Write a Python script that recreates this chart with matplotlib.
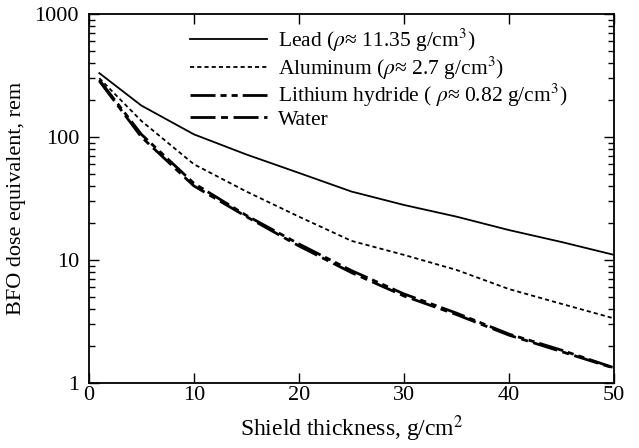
import matplotlib
matplotlib.use("Agg")
import matplotlib.pyplot as plt
from matplotlib.ticker import LogLocator, NullFormatter, FixedLocator

plt.rcParams['font.family'] = ['Liberation Serif', 'DejaVu Serif']
plt.rcParams['mathtext.fontset'] = 'stix'

# values (g/cm^2 vs rem)
thickness = [1, 5, 10, 15, 20, 25, 30, 35, 40, 45, 50]
lead = [330, 180, 105, 72, 51, 36, 28, 22.5, 17.5, 14, 11]
aluminum = [300, 135, 60, 36, 22.5, 14.3, 11, 8.3, 5.8, 4.4, 3.35]
lithium_hydride = [290, 105, 42, 23, 13.5, 8.2, 5.3, 3.7, 2.5, 1.85, 1.33]
water = [285, 100, 40, 22.5, 13, 7.9, 5.1, 3.6, 2.45, 1.8, 1.32]

labels = [r'Lead ($\rho$≈ 11.35 g/cm$^3$)',
          r'Aluminum ($\rho$≈ 2.7 g/cm$^3$)',
          r'Lithium hydride ( $\rho$≈ 0.82 g/cm$^3$)',
          'Water']

fig = plt.figure(figsize=(6.39, 4.48), dpi=100)
ax = fig.add_axes([0.139, 0.145, 0.822, 0.824])

ax.plot(thickness, lead, color='black', lw=1.3, label=labels[0])
ax.plot(thickness, aluminum, color='black', lw=1.3, dashes=(2.3, 1.7), label=labels[1])
ax.plot(thickness, lithium_hydride, color='black', lw=2.0,
        dashes=(9, 1.8, 2.2, 1.8, 2.2, 1.8), label=labels[2])
ax.plot(thickness, water, color='black', lw=2.0,
        dashes=(9, 2, 2.5, 2), label=labels[3])

ax.set_yscale('log')
ax.set_xlim(0, 50)
ax.set_ylim(1, 1000)
ax.xaxis.set_major_locator(FixedLocator([0, 10, 20, 30, 40, 50]))
ax.yaxis.set_major_locator(FixedLocator([1, 10, 100, 1000]))
ax.yaxis.set_minor_locator(LogLocator(base=10, subs=range(2, 10)))
ax.yaxis.set_minor_formatter(NullFormatter())
ax.set_yticklabels(['1', '10', '100', '1000'])

ax.tick_params(which='both', direction='in', top=True, right=True,
               labelsize=16, width=1.0)
ax.tick_params(which='major', length=7)
ax.tick_params(which='minor', length=4)
ax.tick_params(axis='x', pad=2)
ax.tick_params(axis='y', pad=7)
for s in ax.spines.values():
    s.set_linewidth(1.3)

ax.set_xlabel('Shield thickness, g/cm$^2$', fontsize=17, labelpad=6)
ax.set_ylabel('BFO dose equivalent, rem', fontsize=16, labelpad=6)

ax.legend(loc='upper left', bbox_to_anchor=(0.192, 0.965), frameon=False,
          fontsize=15.5, handlelength=3.6, handletextpad=0.5,
          labelspacing=0.02, borderaxespad=0, borderpad=0)

fig.savefig('out.png', dpi=100)
